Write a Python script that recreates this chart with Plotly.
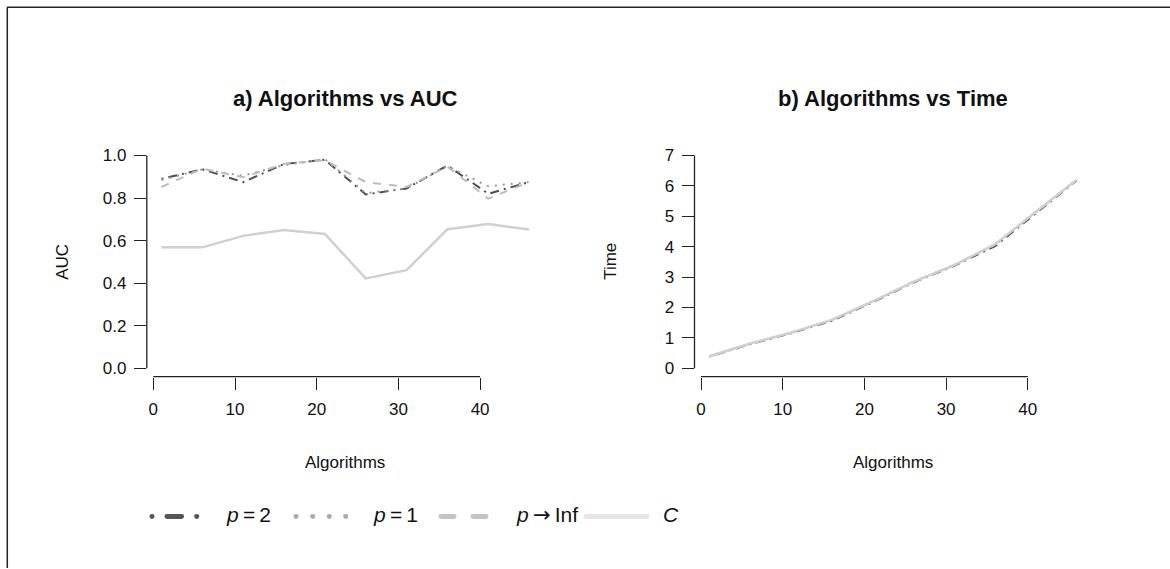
import plotly.graph_objects as go

# ---------------- data ----------------
algorithms = [1, 6, 11, 16, 21, 26, 31, 36, 41, 46]

auc_p2 = [0.890, 0.935, 0.875, 0.960, 0.980, 0.817, 0.845, 0.953, 0.820, 0.875]
auc_p1 = [0.885, 0.935, 0.905, 0.955, 0.983, 0.823, 0.845, 0.950, 0.855, 0.875]
auc_pinf = [0.852, 0.938, 0.898, 0.961, 0.977, 0.875, 0.852, 0.948, 0.797, 0.875]
auc_c = [0.568, 0.568, 0.622, 0.650, 0.631, 0.422, 0.461, 0.653, 0.678, 0.652]

time_p2 = [0.38, 0.79, 1.15, 1.56, 2.17, 2.82, 3.37, 4.02, 5.10, 6.18]
time_p1 = [0.39, 0.80, 1.17, 1.58, 2.19, 2.84, 3.39, 4.06, 5.13, 6.20]
time_pinf = [0.38, 0.80, 1.16, 1.59, 2.19, 2.85, 3.40, 4.08, 5.14, 6.21]
time_c = [0.39, 0.81, 1.17, 1.59, 2.20, 2.84, 3.39, 4.08, 5.15, 6.20]

x_ticks = [0, 10, 20, 30, 40]
auc_ticks = [0.0, 0.2, 0.4, 0.6, 0.8, 1.0]
time_ticks = [0, 1, 2, 3, 4, 5, 6, 7]

series_names = ["p = 2", "p = 1", "p → Inf", "C"]

# ---------------- styling ----------------
W, H = 1170, 569
FONT = "Liberation Sans, Arial, Helvetica, sans-serif"
AXC = "#222222"
TXT = "#111111"

styles = [
    dict(color="#4d4d4d", width=2, dash="2px,5px,9px,5px"),
    dict(color="#999999", width=2, dash="2px,6px"),
    dict(color="#bdbdbd", width=2, dash="8px,8px"),
    dict(color="#d0d0d0", width=2.5, dash="solid"),
]

def px_x(p):
    return p / W

def px_y(p):
    return 1 - p / H

# plot regions in pixels
L_X0, L_X1 = 146.8, 543.8
R_X0, R_X1 = 694.5, 1091.5
Y_TOP, Y_BOT = 146.5, 377.0

fig = go.Figure()

auc_sets = [auc_p2, auc_p1, auc_pinf, auc_c]
time_sets = [time_p2, time_p1, time_pinf, time_c]
for name, st, ys in zip(series_names, styles, auc_sets):
    fig.add_trace(go.Scatter(x=algorithms, y=ys, mode="lines", name=name,
                             line=st, xaxis="x", yaxis="y", showlegend=False,
                             hoverinfo="skip"))
for name, st, ys in zip(series_names, styles, time_sets):
    fig.add_trace(go.Scatter(x=algorithms, y=ys, mode="lines", name=name,
                             line=st, xaxis="x2", yaxis="y2", showlegend=False,
                             hoverinfo="skip"))

axis_common = dict(showgrid=False, zeroline=False, showline=False,
                   ticks="outside", ticklen=12, tickwidth=1.3, tickcolor=AXC,
                   tickfont=dict(family=FONT, size=17, color=TXT),
                   fixedrange=True)

fig.update_layout(
    width=W, height=H,
    margin=dict(l=0, r=0, t=0, b=0),
    paper_bgcolor="white", plot_bgcolor="white",
    xaxis=dict(domain=[px_x(L_X0), px_x(L_X1)], range=[-0.8, 47.8],
               tickvals=x_ticks, anchor="y", ticklabelstandoff=5, **axis_common),
    yaxis=dict(domain=[px_y(Y_BOT), px_y(Y_TOP)], range=[-0.04, 1.04],
               tickvals=auc_ticks, ticktext=[f"{v:.1f}" for v in auc_ticks],
               anchor="x", ticklabelstandoff=4, **axis_common),
    xaxis2=dict(domain=[px_x(R_X0), px_x(R_X1)], range=[-0.8, 47.8],
                tickvals=x_ticks, anchor="y2", ticklabelstandoff=5, **axis_common),
    yaxis2=dict(domain=[px_y(Y_BOT), px_y(Y_TOP)], range=[-0.28, 7.28],
                tickvals=time_ticks, anchor="x2", ticklabelstandoff=4, **axis_common),
)

shapes = []
# partial axis lines (R style)
shapes.append(dict(type="line", xref="x", yref="paper", x0=0, x1=40,
                   y0=px_y(Y_BOT), y1=px_y(Y_BOT), line=dict(color=AXC, width=1.3)))
shapes.append(dict(type="line", xref="paper", yref="y", x0=px_x(L_X0), x1=px_x(L_X0),
                   y0=0, y1=1, line=dict(color=AXC, width=1.3)))
shapes.append(dict(type="line", xref="x2", yref="paper", x0=0, x1=40,
                   y0=px_y(Y_BOT), y1=px_y(Y_BOT), line=dict(color=AXC, width=1.3)))
shapes.append(dict(type="line", xref="paper", yref="y2", x0=px_x(R_X0), x1=px_x(R_X0),
                   y0=0, y1=7, line=dict(color=AXC, width=1.3)))
# figure border (top and left visible)
shapes.append(dict(type="line", xref="paper", yref="paper", x0=px_x(7), x1=1.0,
                   y0=px_y(6.3), y1=px_y(6.3), line=dict(color=AXC, width=1.5)))
shapes.append(dict(type="line", xref="paper", yref="paper", x0=px_x(7.3), x1=px_x(7.3),
                   y0=px_y(6.3), y1=0.0, line=dict(color=AXC, width=1.5)))

# ---------------- manual legend ----------------
LEG_Y = 517.3
LW = 5

def dot(cx, color, d=5):
    shapes.append(dict(type="circle", xref="paper", yref="paper",
                       x0=px_x(cx - d / 2), x1=px_x(cx + d / 2),
                       y0=px_y(LEG_Y + d / 2), y1=px_y(LEG_Y - d / 2),
                       fillcolor=color, line=dict(width=0)))

def seg(xa, xb, color):
    shapes.append(dict(type="line", xref="paper", yref="paper",
                       x0=px_x(xa), x1=px_x(xb), y0=px_y(LEG_Y), y1=px_y(LEG_Y),
                       line=dict(color=color, width=LW)))
    dot(xa, color, LW)
    dot(xb, color, LW)

c2, c1, ci, cc = "#555555", "#aaaaaa", "#c4c4c4", "#e6e6e6"
dot(152, c2)
seg(167, 181.5, c2)
dot(196.7, c2)
for cx in [296, 312.7, 329.3, 345.7]:
    dot(cx, c1)
seg(441, 454, ci)
seg(473, 486, ci)
seg(586, 647, cc)

TS = "\u2009"
ARROW = "<span style='font-family:DejaVu Sans'>→</span>"
annotations = []
leg_texts = [(f"<i>p</i>{TS}={TS}2", 224), (f"<i>p</i>{TS}={TS}1", 371),
             (f"<i>p</i>{TS}{ARROW}{TS}Inf", 514), ("<i>C</i>", 661)]
for txt, xl in leg_texts:
    annotations.append(dict(text=txt, xref="paper", yref="paper", x=px_x(xl),
                            y=px_y(515.5), xanchor="left", yanchor="middle",
                            showarrow=False,
                            font=dict(family=FONT, size=21, color=TXT)))

# titles and axis labels
for txt, xc in [("<b>a) Algorithms vs AUC</b>", (L_X0 + L_X1) / 2),
                ("<b>b) Algorithms vs Time</b>", (R_X0 + R_X1) / 2)]:
    annotations.append(dict(text=txt, xref="paper", yref="paper", x=px_x(xc), y=px_y(98),
                            xanchor="center", yanchor="middle", showarrow=False,
                            font=dict(family=FONT, size=22, color=TXT)))

for txt, xc in [("Algorithms", (L_X0 + L_X1) / 2), ("Algorithms", (R_X0 + R_X1) / 2)]:
    annotations.append(dict(text=txt, xref="paper", yref="paper", x=px_x(xc), y=px_y(463),
                            xanchor="center", yanchor="middle", showarrow=False,
                            font=dict(family=FONT, size=17, color=TXT)))
for txt, xc in [("AUC", 63), ("Time", 611)]:
    annotations.append(dict(text=txt, xref="paper", yref="paper", x=px_x(xc),
                            y=px_y((Y_TOP + Y_BOT) / 2), textangle=-90,
                            xanchor="center", yanchor="middle", showarrow=False,
                            font=dict(family=FONT, size=17, color=TXT)))

fig.update_layout(shapes=shapes, annotations=annotations)

fig.write_html("out.html", config={"displayModeBar": False})
